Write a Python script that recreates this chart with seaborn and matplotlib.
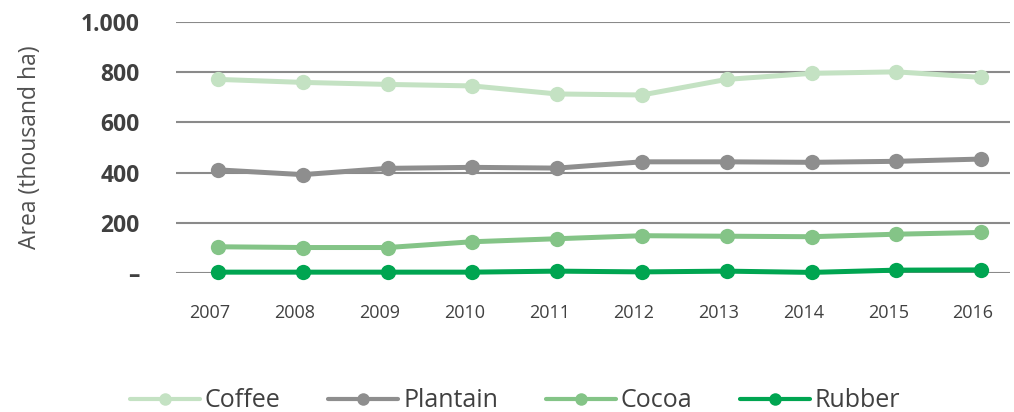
import matplotlib
matplotlib.use("Agg")
import matplotlib.pyplot as plt
import matplotlib.transforms as mtransforms
import seaborn as sns
import pandas as pd
from matplotlib.ticker import FixedLocator

years = [2007, 2008, 2009, 2010, 2011, 2012, 2013, 2014, 2015, 2016]
coffee = [771, 759, 751, 745, 713, 709, 771, 795, 801, 779]
plantain = [411, 392, 417, 421, 418, 443, 443, 441, 445, 454]
cocoa = [105, 102, 102, 125, 137, 149, 147, 145, 155, 162]
rubber = [4, 4, 4, 4, 8, 5, 8, 3, 12, 13]

series_names = ["Coffee", "Plantain", "Cocoa", "Rubber"]
series_colors = ["#c4e2c3", "#8e8e8e", "#84c487", "#00a551"]
y_ticks = [0, 200, 400, 600, 800, 1000]
y_tick_labels = ["–", "200", "400", "600", "800", "1.000"]

df = pd.DataFrame({"Year": years, "Coffee": coffee, "Plantain": plantain,
                   "Cocoa": cocoa, "Rubber": rubber})
long = df.melt(id_vars="Year", var_name="Crop", value_name="Area")

sns.set_theme(style="white")
plt.rcParams["font.family"] = ["Open Sans", "DejaVu Sans"]

fig = plt.figure(figsize=(10.14, 4.12), dpi=100)
ax = fig.add_axes([0.1736, 0.337, 0.8224, 0.610])

# Horizontal gridlines at each tick value
for y in y_ticks:
    ax.axhline(y, color="#8a8a8a", lw=1.5, zorder=0)

sns.lineplot(data=long, x="Year", y="Area", hue="Crop", hue_order=series_names,
             palette=dict(zip(series_names, series_colors)), marker="o",
             markersize=11, markeredgewidth=0, linewidth=3.6, ax=ax,
             legend=False, clip_on=False)

ax.set_xlim(years[0] - 0.495, years[-1] + 0.34)
ax.set_ylim(0, 1000)
ax.xaxis.set_major_locator(FixedLocator(years))
ax.set_xticklabels([str(y) for y in years], fontsize=13, color="#404040")
ax.yaxis.set_major_locator(FixedLocator(y_ticks))
ax.set_yticklabels(y_tick_labels, fontsize=16.5, fontweight="bold", color="#404040")
ax.tick_params(axis="x", length=0, pad=22)
ax.tick_params(axis="y", length=0, pad=26)
shift = mtransforms.ScaledTranslation(-8 / 100, 0, fig.dpi_scale_trans)
for lbl in ax.get_xticklabels():
    lbl.set_transform(lbl.get_transform() + shift)
ax.set_xlabel("")
ax.set_ylabel("Area (thousand ha)", fontsize=16.5, color="#505050")
ax.yaxis.set_label_coords(-0.161, 0.50)
for s in ax.spines.values():
    s.set_visible(False)

handles = [plt.Line2D([], [], color=c, lw=3, marker="o", markersize=9,
                      markeredgewidth=0) for c in series_colors]
fig.legend(handles, series_names, loc="center", bbox_to_anchor=(0.508, 0.027),
           ncol=4, frameon=False, handlelength=2.8, handletextpad=0.2,
           columnspacing=1.9, prop={"size": 18}, labelcolor="#404040")

fig.savefig("out.png", dpi=100)
